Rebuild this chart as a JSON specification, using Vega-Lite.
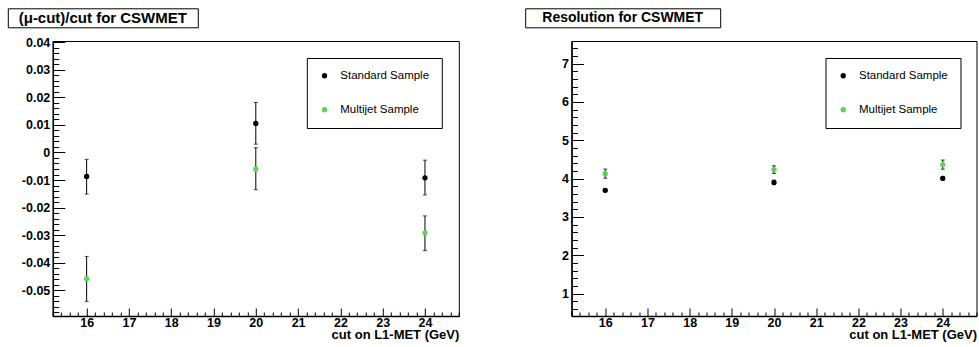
{
  "$schema": "https://vega.github.io/schema/vega-lite/v6.json",
  "background": "white",
  "padding": {"left": 6.8, "top": 7.3, "right": 0, "bottom": 0},
  "datasets": {
    "bias": [
      {"cut": 16, "sample": "Standard Sample", "value": -0.0087, "lo": -0.0151, "hi": -0.0025},
      {"cut": 20, "sample": "Standard Sample", "value": 0.0105, "lo": 0.0030, "hi": 0.0181},
      {"cut": 24, "sample": "Standard Sample", "value": -0.0092, "lo": -0.0154, "hi": -0.0028},
      {"cut": 16, "sample": "Multijet Sample", "value": -0.0458, "lo": -0.0540, "hi": -0.0377},
      {"cut": 20, "sample": "Multijet Sample", "value": -0.0060, "lo": -0.0135, "hi": 0.0017},
      {"cut": 24, "sample": "Multijet Sample", "value": -0.0292, "lo": -0.0356, "hi": -0.0230}
    ],
    "res": [
      {"cut": 16, "sample": "Standard Sample", "value": 3.695, "lo": 3.655, "hi": 3.735},
      {"cut": 20, "sample": "Standard Sample", "value": 3.90, "lo": 3.84, "hi": 3.96},
      {"cut": 24, "sample": "Standard Sample", "value": 4.008, "lo": 3.958, "hi": 4.058},
      {"cut": 16, "sample": "Multijet Sample", "value": 4.13, "lo": 4.01, "hi": 4.25},
      {"cut": 20, "sample": "Multijet Sample", "value": 4.235, "lo": 4.135, "hi": 4.335},
      {"cut": 24, "sample": "Multijet Sample", "value": 4.365, "lo": 4.245, "hi": 4.485}
    ]
  },
  "config": {
    "font": "Liberation Sans",
    "view": {"stroke": "black", "strokeWidth": 1},
    "axis": {"grid": false, "domainColor": "black", "tickColor": "black", "labelColor": "black", "titleColor": "black"},
    "legend": {
      "orient": "none", "legendX": 254, "legendY": 17,
      "fillColor": "white", "strokeColor": "black",
      "padding": 12, "rowPadding": 21, "labelOffset": 10,
      "labelFont": "Liberation Sans", "labelFontSize": 11.5, "labelColor": "black",
      "symbolType": "circle", "symbolSize": 28, "symbolStrokeWidth": 0
    }
  },
  "resolve": {"scale": {"color": "independent"}, "legend": {"color": "independent"}},
  "spacing": 6.7,
  "vconcat": [
    {
      "spacing": 325.4,
      "hconcat": [
        {
          "width": 190, "height": 19,
          "view": {"stroke": "black", "strokeWidth": 1, "fill": "white"},
          "data": {"values": [{"title": "(μ-cut)/cut for CSWMET"}]},
          "mark": {"type": "text", "fontSize": 15, "fontWeight": "bold", "color": "black", "align": "center", "baseline": "middle"},
          "encoding": {
            "x": {"field": "title", "type": "nominal", "axis": null},
            "y": {"field": "title", "type": "nominal", "axis": null},
            "text": {"field": "title"}
          }
        },
        {
          "width": 195, "height": 19,
          "view": {"stroke": "black", "strokeWidth": 1, "fill": "white"},
          "data": {"values": [{"title": "Resolution for CSWMET"}]},
          "mark": {"type": "text", "fontSize": 14, "fontWeight": "bold", "color": "black", "align": "center", "baseline": "middle"},
          "encoding": {
            "x": {"field": "title", "type": "nominal", "axis": null},
            "y": {"field": "title", "type": "nominal", "axis": null},
            "text": {"field": "title"}
          }
        }
      ]
    },
    {
      "spacing": 64.7,
      "resolve": {"scale": {"color": "independent"}, "legend": {"color": "independent"}},
      "hconcat": [
        {
          "spacing": 0,
          "resolve": {"scale": {"color": "independent"}, "legend": {"color": "independent"}},
          "hconcat": [
            {
              "width": 1, "height": 1,
              "view": {"stroke": null, "fill": null},
              "data": {"values": []},
              "mark": {"type": "point", "opacity": 0},
              "encoding": {}
            },
            {
              "width": 406, "height": 275,
              "data": {"name": "bias"},
              "resolve": {"axis": {"x": "independent", "y": "independent"}},
              "layer": [
                {
                  "mark": {"type": "rule", "color": "black", "strokeWidth": 1},
                  "encoding": {
                    "x": {"field": "cut", "type": "quantitative", "scale": {"domain": [15.2, 24.8], "nice": false, "zero": false},
                      "axis": {"orient": "bottom", "values": [16, 17, 18, 19, 20, 21, 22, 23, 24], "format": "d", "tickSize": -8, "labelPadding": 8.5,
                        "labelFontSize": 12.5, "labelFontWeight": "bold", "labelOverlap": false, "labelFlush": false, "domainWidth": 1.5,
                        "title": "cut on L1-MET (GeV)", "titleAnchor": "end", "titleFontSize": 13, "titleFontWeight": "bold", "titlePadding": 0}},
                    "y": {"field": "lo", "type": "quantitative", "scale": {"domain": [-0.0593, 0.0404], "nice": false, "zero": false},
                      "axis": {"orient": "left", "values": [-0.05, -0.04, -0.03, -0.02, -0.01, 0, 0.01, 0.02, 0.03, 0.04],
                        "labelExpr": "replace(format(datum.value, '.2~f'), '\u2212', '-')", "tickSize": -12, "labelPadding": 15,
                        "labelFontSize": 12.5, "labelFontWeight": "bold", "labelOverlap": false, "labelFlush": false, "domainWidth": 1.5,
                        "minExtent": 43, "maxExtent": 43, "title": null}},
                    "y2": {"field": "hi"}
                  }
                },
                {
                  "mark": {"type": "tick", "orient": "horizontal", "color": "black", "size": 4, "thickness": 1},
                  "encoding": {
                    "x": {"field": "cut", "type": "quantitative",
                      "axis": {"orient": "bottom", "values": [15.2, 15.4, 15.6, 15.8, 16.2, 16.4, 16.6, 16.8, 17.2, 17.4, 17.6, 17.8, 18.2, 18.4, 18.6, 18.8, 19.2, 19.4, 19.6, 19.8, 20.2, 20.4, 20.6, 20.8, 21.2, 21.4, 21.6, 21.8, 22.2, 22.4, 22.6, 22.8, 23.2, 23.4, 23.6, 23.8, 24.2, 24.4, 24.6, 24.8],
                        "tickSize": -4, "labels": false, "domain": false, "title": null}},
                    "y": {"field": "lo", "type": "quantitative",
                      "axis": {"orient": "left", "values": [-0.058, -0.056, -0.054, -0.052, -0.048, -0.046, -0.044, -0.042, -0.038, -0.036, -0.034, -0.032, -0.028, -0.026, -0.024, -0.022, -0.018, -0.016, -0.014, -0.012, -0.008, -0.006, -0.004, -0.002, 0.002, 0.004, 0.006, 0.008, 0.012, 0.014, 0.016, 0.018, 0.022, 0.024, 0.026, 0.028, 0.032, 0.034, 0.036, 0.038],
                        "tickSize": -6, "labels": false, "domain": false, "title": null}}
                  }
                },
                {
                  "mark": {"type": "tick", "orient": "horizontal", "color": "black", "size": 4, "thickness": 1},
                  "encoding": {
                    "x": {"field": "cut", "type": "quantitative", "axis": null},
                    "y": {"field": "hi", "type": "quantitative", "axis": null}
                  }
                },
                {
                  "mark": {"type": "point", "filled": true, "size": 28, "opacity": 1, "shape": "circle"},
                  "encoding": {
                    "x": {"field": "cut", "type": "quantitative", "axis": null},
                    "y": {"field": "value", "type": "quantitative", "axis": null},
                    "color": {"field": "sample", "type": "nominal",
                      "scale": {"domain": ["Standard Sample", "Multijet Sample"], "range": ["#000000", "#59d454"]},
                      "legend": {"title": null}}
                  }
                }
              ]
            }
          ]
        },
        {
          "width": 405, "height": 275,
          "data": {"name": "res"},
          "resolve": {"axis": {"x": "independent", "y": "independent"}},
          "layer": [
            {
              "mark": {"type": "rule", "color": "black", "strokeWidth": 1},
              "encoding": {
                "x": {"field": "cut", "type": "quantitative", "scale": {"domain": [15.2, 24.8], "nice": false, "zero": false},
                  "axis": {"orient": "bottom", "values": [16, 17, 18, 19, 20, 21, 22, 23, 24], "format": "d", "tickSize": -8, "labelPadding": 8.5,
                    "labelFontSize": 12.5, "labelFontWeight": "bold", "labelOverlap": false, "labelFlush": false, "domainWidth": 1.5,
                    "title": "cut on L1-MET (GeV)", "titleAnchor": "end", "titleFontSize": 13, "titleFontWeight": "bold", "titlePadding": 0}},
                "y": {"field": "lo", "type": "quantitative", "scale": {"domain": [0.416, 7.59], "nice": false, "zero": false},
                  "axis": {"orient": "left", "values": [1, 2, 3, 4, 5, 6, 7], "format": "d", "tickSize": -12, "labelPadding": 15,
                    "labelFontSize": 12.5, "labelFontWeight": "bold", "labelOverlap": false, "labelFlush": false, "domainWidth": 1.5,
                    "minExtent": 46, "maxExtent": 46, "title": null}},
                "y2": {"field": "hi"}
              }
            },
            {
              "mark": {"type": "tick", "orient": "horizontal", "color": "black", "size": 4, "thickness": 1},
              "encoding": {
                "x": {"field": "cut", "type": "quantitative",
                  "axis": {"orient": "bottom", "values": [15.2, 15.4, 15.6, 15.8, 16.2, 16.4, 16.6, 16.8, 17.2, 17.4, 17.6, 17.8, 18.2, 18.4, 18.6, 18.8, 19.2, 19.4, 19.6, 19.8, 20.2, 20.4, 20.6, 20.8, 21.2, 21.4, 21.6, 21.8, 22.2, 22.4, 22.6, 22.8, 23.2, 23.4, 23.6, 23.8, 24.2, 24.4, 24.6, 24.8],
                    "tickSize": -4, "labels": false, "domain": false, "title": null}},
                "y": {"field": "lo", "type": "quantitative",
                  "axis": {"orient": "left", "values": [0.6, 0.8, 1.2, 1.4, 1.6, 1.8, 2.2, 2.4, 2.6, 2.8, 3.2, 3.4, 3.6, 3.8, 4.2, 4.4, 4.6, 4.8, 5.2, 5.4, 5.6, 5.8, 6.2, 6.4, 6.6, 6.8, 7.2, 7.4],
                    "tickSize": -6, "labels": false, "domain": false, "title": null}}
              }
            },
            {
              "mark": {"type": "tick", "orient": "horizontal", "color": "black", "size": 4, "thickness": 1},
              "encoding": {
                "x": {"field": "cut", "type": "quantitative", "axis": null},
                "y": {"field": "hi", "type": "quantitative", "axis": null}
              }
            },
            {
              "mark": {"type": "point", "filled": true, "size": 28, "opacity": 1, "shape": "circle"},
              "encoding": {
                "x": {"field": "cut", "type": "quantitative", "axis": null},
                "y": {"field": "value", "type": "quantitative", "axis": null},
                "color": {"field": "sample", "type": "nominal",
                  "scale": {"domain": ["Standard Sample", "Multijet Sample"], "range": ["#000000", "#59d454"]},
                  "legend": {"title": null}}
              }
            }
          ]
        }
      ]
    }
  ]
}
